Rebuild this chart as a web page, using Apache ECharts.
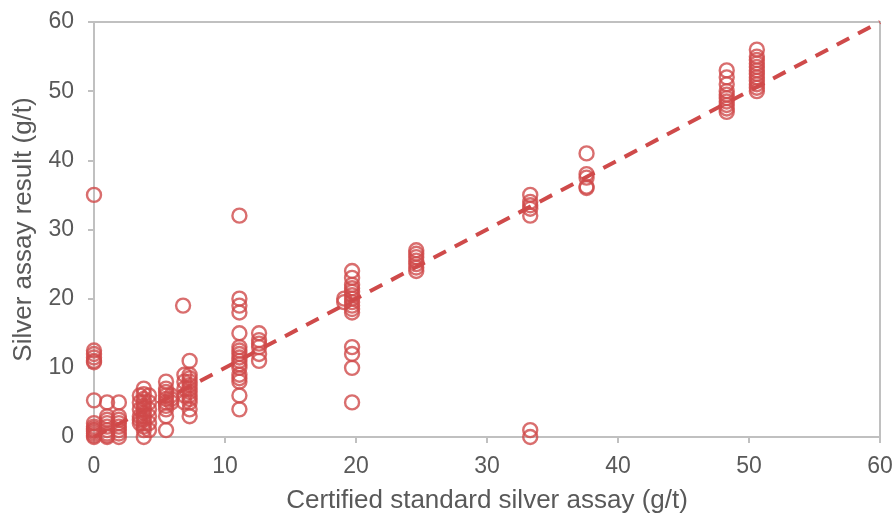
<!DOCTYPE html>
<html>
<head>
<meta charset="utf-8">
<script src="https://cdn.jsdelivr.net/npm/echarts@6/dist/echarts.min.js"></script>
<style>html,body{margin:0;padding:0;background:#fff}#c{width:896px;height:518px}</style>
</head>
<body>
<div id="c"></div>
<script>
// Certified standard values (x) for each cluster of assay results
const certified = [0, 1.0, 1.9, 3.5, 3.8, 4.2, 5.5, 5.9, 6.8, 6.9, 7.3, 11.1, 12.6, 19.1, 19.7, 24.6, 33.3, 37.6, 48.3, 50.6];
// Assay results (y) for each cluster
const results = [
  [35, 12.5, 12, 11.5, 11, 10.8, 5.3, 2, 1.5, 1, 0.5, 0, 0.2, 0.8, 1.2],
  [5, 3, 2.5, 2, 1.5, 1, 0.5, 0, 0.2],
  [5, 3, 2.5, 2, 1.5, 1, 0.5, 0],
  [6, 5, 4, 3, 2.5, 2],
  [7, 6.2, 5.5, 5, 4.5, 4, 3.5, 3, 2.5, 2, 1.5, 1, 0],
  [6, 5, 4, 3, 2, 1],
  [8, 7, 6.5, 6, 5.5, 5, 4.5, 4, 3, 1],
  [6, 5.5, 5],
  [19],
  [9, 8, 7, 6, 5],
  [11, 9, 8.5, 8, 7.5, 7, 6.5, 6, 5.5, 5, 4, 3],
  [32, 20, 19, 18, 15, 13, 12.5, 12, 11.5, 11, 10.5, 10, 9, 8.5, 8, 6, 4],
  [15, 14, 13.5, 13, 12, 11],
  [20, 19.5],
  [24, 23, 22, 21.5, 21, 20.5, 20, 19.5, 19, 18.5, 18, 13, 12, 10, 5],
  [27, 26.5, 26, 25.5, 25, 24.5, 24],
  [35, 34, 33.5, 33, 32, 1, 0],
  [41, 38, 37.5, 36.2, 36],
  [53, 52, 51, 50, 49.5, 49, 48.5, 48, 47.5, 47],
  [56, 55, 54.5, 54, 53.5, 53, 52.5, 52, 51.5, 51, 50.5, 50]
];
// 1:1 reference line
const lineX = [0, 60];
const lineY = [0, 60];
const xTicks = [0, 10, 20, 30, 40, 50, 60];
const yTicks = [0, 10, 20, 30, 40, 50, 60];

const red = '#cf4a4a';
const font = 'Liberation Sans, Arial, sans-serif';
const points = [];
certified.forEach((x, i) => results[i].forEach(y => points.push([x, y])));

const chart = echarts.init(document.getElementById('c'), null, {renderer: 'canvas'});
chart.setOption({
  animation: false,
  backgroundColor: '#fff',
  grid: {left: 94, right: 16, top: 22, bottom: 81, containLabel: false, outerBoundsMode: 'none',
         show: true, borderColor: '#c0c0c0', borderWidth: 2, backgroundColor: 'transparent'},
  xAxis: {
    type: 'value', min: xTicks[0], max: xTicks[xTicks.length - 1], interval: 10,
    name: 'Certified standard silver assay (g/t)', nameLocation: 'middle', nameGap: 51,
    nameTextStyle: {fontFamily: font, fontSize: 26, color: '#595959'},
    axisLine: {show: true, lineStyle: {color: '#c0c0c0', width: 2}},
    axisTick: {show: true, length: 6, lineStyle: {color: '#c0c0c0', width: 2}},
    axisLabel: {fontFamily: font, fontSize: 23, color: '#595959', margin: 18},
    splitLine: {show: false}
  },
  yAxis: {
    type: 'value', min: yTicks[0], max: yTicks[yTicks.length - 1], interval: 10,
    name: 'Silver assay result (g/t)', nameLocation: 'middle', nameGap: 57, nameRotate: 90,
    nameTextStyle: {fontFamily: font, fontSize: 26, color: '#595959'},
    axisLine: {show: true, lineStyle: {color: '#c0c0c0', width: 2}},
    axisTick: {show: true, length: 6, lineStyle: {color: '#c0c0c0', width: 2}},
    axisLabel: {fontFamily: font, fontSize: 23, color: '#595959', margin: 20},
    splitLine: {show: false}
  },
  series: [
    {
      type: 'line', data: lineX.map((x, i) => [x, lineY[i]]), symbol: 'none', z: 1,
      lineStyle: {color: red, width: 4, type: [14, 10]}
    },
    {
      type: 'scatter', data: points, symbol: 'circle', symbolSize: 14, z: 2,
      itemStyle: {color: 'rgba(255,255,255,0)', borderColor: red, borderWidth: 2.4}
    }
  ]
});
</script>
</body>
</html>
